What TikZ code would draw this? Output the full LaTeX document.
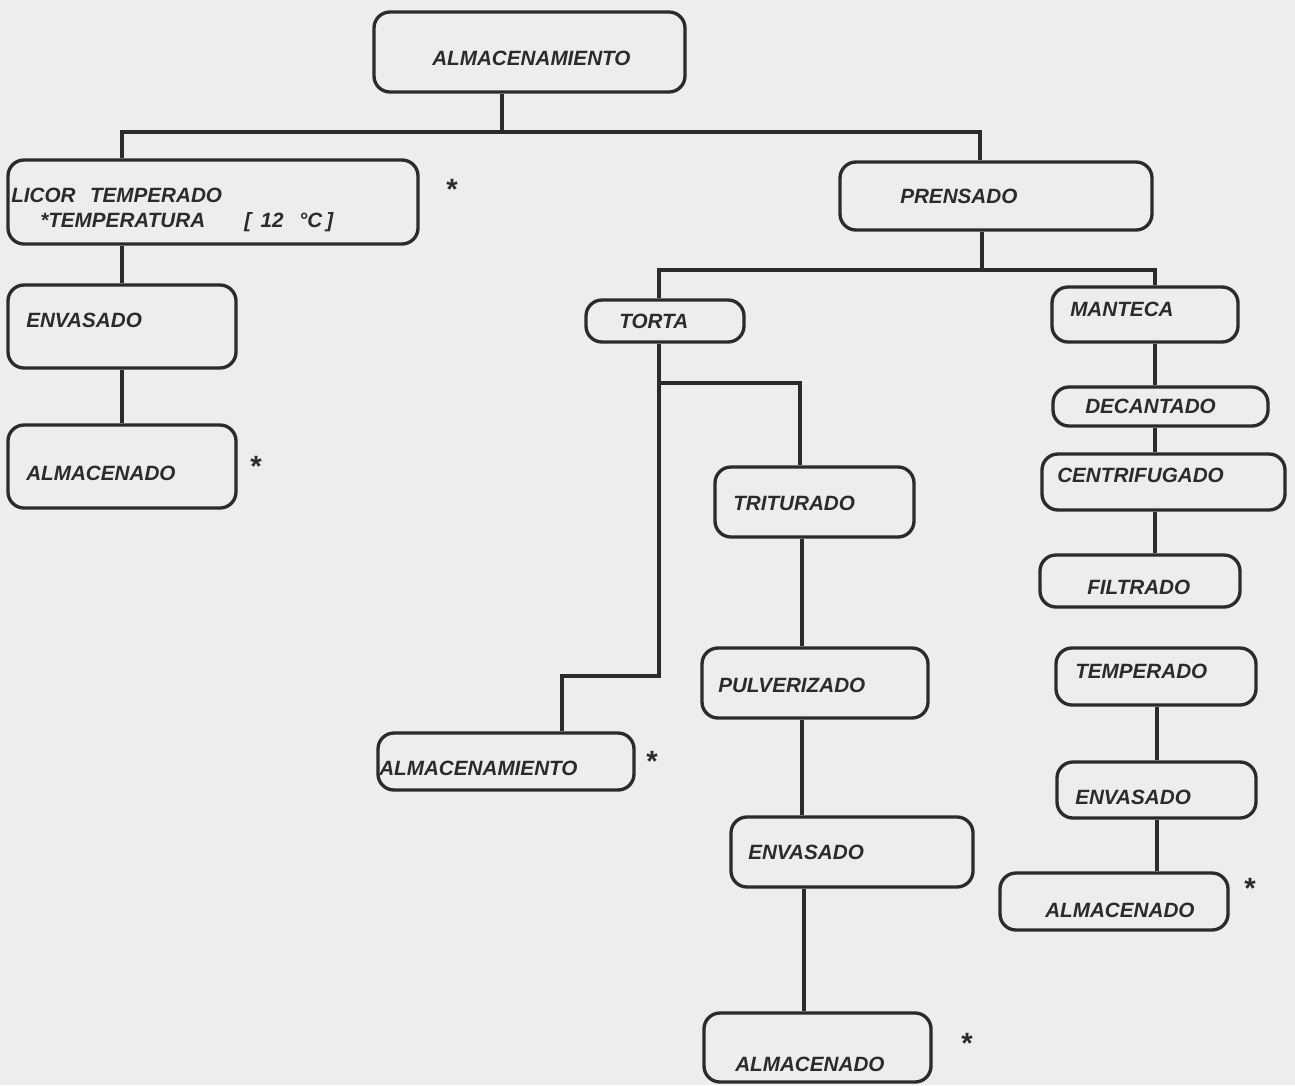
\documentclass[tikz,border=0pt]{standalone}
\usepackage{fontspec}
\setmainfont{Liberation Sans}
\usetikzlibrary{fit}
\definecolor{paper}{HTML}{EDEDED}
\definecolor{ink}{HTML}{2B2B2B}
\begin{document}
\begin{tikzpicture}[x=0.75pt,y=-0.75pt,
  box/.style={draw=ink, line width=2.5pt, rounded corners=12pt, inner sep=0pt},
  lbl/.style={inner sep=0pt, anchor=west, text=ink, font=\fontsize{15.5}{18}\selectfont\bfseries\itshape},
  star/.style={inner sep=0pt, text=ink, font=\fontsize{22}{22}\selectfont\bfseries},
  conn/.style={draw=ink, line width=2.3pt}]
\fill[paper] (0,0) rectangle (1295,1085);
\useasboundingbox (0,0) rectangle (1295,1085);

% boxes
\node[box, fit={(374,12) (685,92)}] (top) {};
\node[box, fit={(8,160) (418,244)}] (licor) {};
\node[box, fit={(840,162) (1152,230)}] (prensado) {};
\node[box, fit={(8,285) (236,368)}] (envL) {};
\node[box, fit={(8,425) (236,508)}] (almL) {};
\node[box, fit={(586,300) (744,342)}] (torta) {};
\node[box, fit={(1052,287) (1238,342)}] (manteca) {};
\node[box, fit={(1053,387) (1268,426)}] (decant) {};
\node[box, fit={(1042,454) (1285,510)}] (centri) {};
\node[box, fit={(1040,555) (1240,607)}] (filtr) {};
\node[box, fit={(1056,648) (1256,705)}] (temper) {};
\node[box, fit={(1057,762) (1256,818)}] (envR) {};
\node[box, fit={(1000,873) (1228,930)}] (almR) {};
\node[box, fit={(715,467) (914,537)}] (trit) {};
\node[box, fit={(702,648) (928,718)}] (pulv) {};
\node[box, fit={(731,817) (973,887)}] (envM) {};
\node[box, fit={(704,1013) (931,1082)}] (almB) {};
\node[box, fit={(378,733) (634,790)}] (almLow) {};

% labels
\node[lbl] (ttop) at (432,58) {ALMACENAMIENTO};
\node[lbl] (tlic1) at (11,195) {LICOR\hspace{0.7em}TEMPERADO};
\node[lbl] (tlic2) at (40,222) {*TEMPERATURA\hspace{1.9em}[\hspace{0.45em}12\hspace{0.75em}°C\hspace{0.2em}]};
\node[lbl] (tpren) at (900,196) {PRENSADO};
\node[lbl] (tenvL) at (26,320) {ENVASADO};
\node[lbl] (talmL) at (26,473) {ALMACENADO};
\node[lbl] (ttorta) at (619,321) {TORTA};
\node[lbl] (tmant) at (1070,309) {MANTECA};
\node[lbl] (tdec) at (1085,406) {DECANTADO};
\node[lbl] (tcen) at (1057,475) {CENTRIFUGADO};
\node[lbl] (tfil) at (1087,587) {FILTRADO};
\node[lbl] (ttem) at (1075,671) {TEMPERADO};
\node[lbl] (tenvR) at (1075,797) {ENVASADO};
\node[lbl] (talmR) at (1045,910) {ALMACENADO};
\node[lbl] (ttrit) at (733,503) {TRITURADO};
\node[lbl] (tpulv) at (718,685) {PULVERIZADO};
\node[lbl] (tenvM) at (748,852) {ENVASADO};
\node[lbl] (talmB) at (735,1064) {ALMACENADO};
\node[lbl] (talmLow) at (379,768) {ALMACENAMIENTO};

% asterisks
\node[star] (s1) at (452,189) {*};
\node[star] (s2) at (256,466) {*};
\node[star] (s3) at (652,761) {*};
\node[star] (s4) at (967,1043) {*};
\node[star] (s5) at (1250,888) {*};

% junctions
\coordinate (j1) at (502,132);
\coordinate (jL) at (122,132);
\coordinate (jR) at (980,132);
\coordinate (j2) at (982,270);
\coordinate (jT) at (659,270);
\coordinate (jM) at (1155,270);
\coordinate (jT2) at (659,383);
\coordinate (jTr) at (800,383);
\coordinate (jT3) at (659,676);
\coordinate (jA) at (562,676);
\coordinate (cM) at (802,0);
\coordinate (cB) at (804,0);
\coordinate (cR1) at (1155,0);
\coordinate (cR2) at (1157,0);

% connectors
\draw[conn] (top.south -| j1) -- (j1);
\draw[conn] (licor.north -| jL) -- (jL) -- (jR) -- (prensado.north -| jR);
\draw[conn] (licor.south -| jL) -- (envL.north -| jL);
\draw[conn] (envL.south -| jL) -- (almL.north -| jL);
\draw[conn] (prensado.south -| j2) -- (j2);
\draw[conn] (torta.north -| jT) -- (jT) -- (jM) -- (manteca.north -| jM);
\draw[conn] (torta.south -| jT) -- (jT3) -- (jA) -- (almLow.north -| jA);
\draw[conn] (jT2) -- (jTr) -- (trit.north -| jTr);
\draw[conn] (trit.south -| cM) -- (pulv.north -| cM);
\draw[conn] (pulv.south -| cM) -- (envM.north -| cM);
\draw[conn] (envM.south -| cB) -- (almB.north -| cB);
\draw[conn] (manteca.south -| cR1) -- (decant.north -| cR1);
\draw[conn] (decant.south -| cR1) -- (centri.north -| cR1);
\draw[conn] (centri.south -| cR1) -- (filtr.north -| cR1);
\draw[conn] (temper.south -| cR2) -- (envR.north -| cR2);
\draw[conn] (envR.south -| cR2) -- (almR.north -| cR2);
\end{tikzpicture}
\end{document}
